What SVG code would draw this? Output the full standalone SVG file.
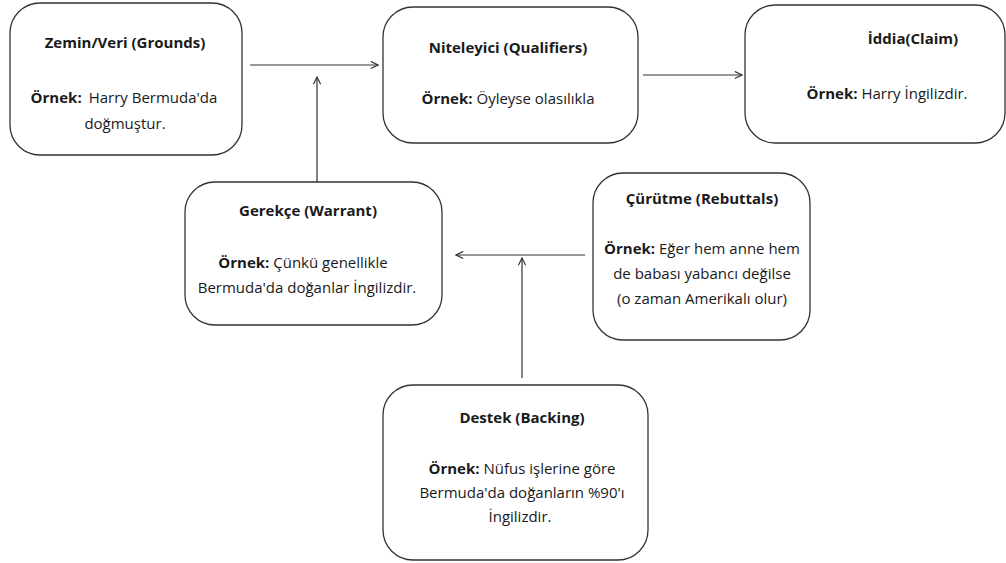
<svg xmlns="http://www.w3.org/2000/svg" width="1006" height="563" viewBox="0 0 1006 563">
  <style>
    .box { fill: #ffffff; stroke: #333333; stroke-width: 1.3; }
    .t { font-family: "Open Sans", "Noto Sans", "DejaVu Sans", sans-serif; font-size: 15px; fill: #1a1a1a; text-anchor: middle; }
    .b { font-weight: bold; }
    .edge { fill: none; stroke: #333333; stroke-width: 1.2; marker-end: url(#arr); }
  </style>
  <defs>
    <marker id="arr" viewBox="0 0 10 10" refX="9" refY="5" markerWidth="9" markerHeight="9" markerUnits="userSpaceOnUse" orient="auto">
      <path d="M1,1 L9,5 L1,9" fill="none" stroke="#333333" stroke-width="1.3"/>
    </marker>
  </defs>
  <rect width="1006" height="563" fill="#ffffff"/>

  <g id="connectors">
    <line class="edge" x1="250" y1="65" x2="378" y2="65"/>
    <line class="edge" x1="317" y1="190" x2="317" y2="77"/>
    <line class="edge" x1="643" y1="75" x2="742" y2="75"/>
    <line class="edge" x1="585" y1="255" x2="456" y2="255"/>
    <line class="edge" x1="522" y1="378" x2="522" y2="258"/>
  </g>

  <g id="grounds">
    <rect class="box" x="10" y="3" width="232" height="152" rx="30"/>
    <text class="t b" x="125" y="48">Zemin/Veri (Grounds)</text>
    <text class="t" x="124" y="103"><tspan class="b">Örnek:</tspan><tspan dx="7">Harry Bermuda'da</tspan></text>
    <text class="t" x="125" y="129">doğmuştur.</text>
  </g>

  <g id="qualifiers">
    <rect class="box" x="383" y="7" width="255" height="136" rx="30"/>
    <text class="t b" x="508" y="53">Niteleyici (Qualifiers)</text>
    <text class="t" x="508" y="104"><tspan class="b">Örnek:</tspan> Öyleyse olasılıkla</text>
  </g>

  <g id="claim">
    <rect class="box" x="745" y="5" width="260" height="138" rx="30"/>
    <text class="t b" x="913" y="44">İddia(Claim)</text>
    <text class="t" x="887" y="99"><tspan class="b">Örnek:</tspan> Harry İngilizdir.</text>
  </g>

  <g id="warrant">
    <rect class="box" x="185" y="182" width="257" height="143" rx="30"/>
    <text class="t b" x="308" y="216">Gerekçe (Warrant)</text>
    <text class="t" x="303" y="268"><tspan class="b">Örnek:</tspan> Çünkü genellikle</text>
    <text class="t" x="307" y="293">Bermuda'da doğanlar İngilizdir.</text>
  </g>

  <g id="rebuttals">
    <rect class="box" x="593" y="173" width="217" height="167" rx="30"/>
    <text class="t b" x="702" y="204">Çürütme (Rebuttals)</text>
    <text class="t" x="702" y="254"><tspan class="b">Örnek:</tspan> Eğer hem anne hem</text>
    <text class="t" x="702" y="279">de babası yabancı değilse</text>
    <text class="t" x="702" y="304">(o zaman Amerikalı olur)</text>
  </g>

  <g id="backing">
    <rect class="box" x="383" y="385" width="265" height="175" rx="30"/>
    <text class="t b" x="522" y="423">Destek (Backing)</text>
    <text class="t" x="522" y="474"><tspan class="b">Örnek:</tspan> Nüfus işlerine göre</text>
    <text class="t" x="522" y="498">Bermuda'da doğanların %90'ı</text>
    <text class="t" x="520" y="522">İngilizdir.</text>
  </g>
</svg>
